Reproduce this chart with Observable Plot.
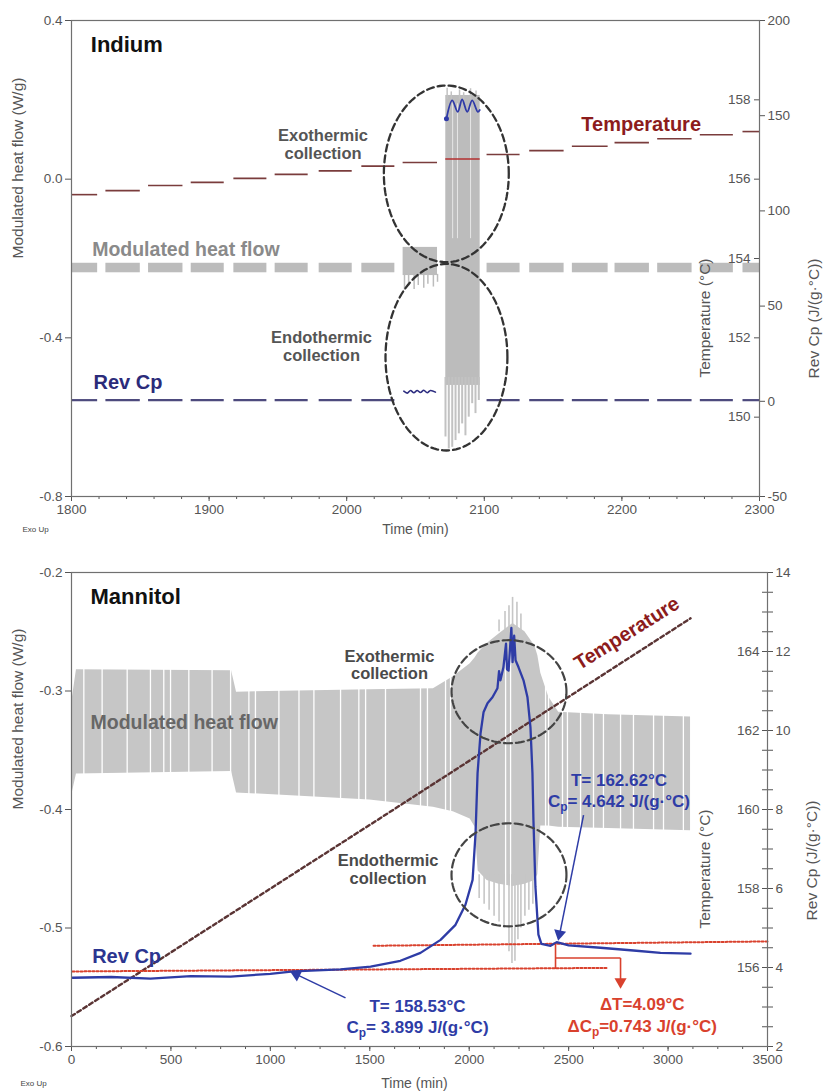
<!DOCTYPE html>
<html>
<head>
<meta charset="utf-8">
<script src="https://cdn.jsdelivr.net/npm/d3@7"></script>
<script src="https://cdn.jsdelivr.net/npm/@observablehq/plot@0.6"></script>
<style>
  html, body { margin: 0; padding: 0; background: #fff; }
  #chart svg { display: block; }
</style>
</head>
<body>
<div id="chart"></div>
<script>
// ======================= INDIUM (top panel) =======================
const inXTicks = [1800, 1900, 2000, 2100, 2200, 2300];
const inYTicks = [-0.8, -0.4, 0.0, 0.4];
const inTempTicks = [150, 152, 154, 156, 158];
const inCpTicks = [-50, 0, 50, 100, 150, 200];

// quasi-isothermal segments (min)
const inSegStart = [1800, 1825, 1856, 1887, 1918, 1948, 1980, 2011, 2041, 2072, 2102, 2133, 2164, 2195, 2226, 2257, 2288];
const inSegEnd   = [1819, 1850, 1881, 1911, 1942, 1972, 2004, 2035, 2066, 2097, 2126, 2158, 2190, 2220, 2251, 2281, 2300];
const inTemp     = [155.61, 155.71, 155.84, 155.92, 156.02, 156.12, 156.21, 156.33, 156.42, 156.51, 156.62, 156.72, 156.83, 156.92, 157.02, 157.12, 157.20];
const inHfHigh   = [-0.212, -0.212, -0.212, -0.212, -0.212, -0.212, -0.212, -0.212, -0.172, 0.211, -0.212, -0.212, -0.212, -0.212, -0.212, -0.212, -0.212];
const inHfLow    = [-0.236, -0.236, -0.236, -0.236, -0.236, -0.236, -0.236, -0.236, -0.243, -0.520, -0.236, -0.236, -0.236, -0.236, -0.236, -0.236, -0.236];
const inRevCp    = [0.6, 0.6, 0.6, 0.6, 0.6, 0.6, 0.6, 0.6, null, null, 0.6, 0.6, 0.6, 0.6, 0.6, 0.6, 0.6];

// heat-flow spikes in segment 9 (pre-melt) and segment 10 (melt)
const inPreSpikeT   = [2042, 2045, 2049, 2052, 2056, 2059, 2063, 2066];
const inPreSpikeLow = [-0.280, -0.270, -0.278, -0.268, -0.275, -0.265, -0.272, -0.260];
const inMeltSpikeT   = [2071.8, 2074.2, 2076.7, 2079.1, 2081.5, 2083.9, 2086.3, 2088.7, 2091.2, 2093.6, 2096.0];
const inMeltSpikeLow = [-0.650, -0.680, -0.676, -0.659, -0.642, -0.617, -0.647, -0.600, -0.566, -0.591, -0.558];
const inMeltUpT  = [2073, 2076, 2082, 2085, 2090, 2094];
const inMeltUp   = [0.229, 0.220, 0.225, 0.218, 0.228, 0.222];
const inMeltGapT = [2077, 2080.5, 2090];

// Rev Cp oscillation during segments 9 and 10
const inWave9T   = [2041.5, 2044.0, 2046.4, 2048.8, 2051.2, 2053.6, 2056.0, 2058.5, 2060.9, 2064.5];
const inWave9Cp  = [5.3, 4.3, 5.7, 4.5, 5.7, 4.6, 5.8, 4.5, 5.7, 4.8];
const inWave10T  = [2072.5, 2076.7, 2080.7, 2083.9, 2087.6, 2091.2, 2095.3, 2096.7];
const inWave10Cp = [148.4, 158.0, 152.0, 158.5, 152.0, 158.0, 152.0, 153.0];

// dashed ellipses (centre / radii in data units)
const inEllT   = [2072.4, 2072.5];
const inEllHf  = [0.0135, -0.4488];
const inEllRt  = [45.4, 44.3];
const inEllRhf = [0.2226, 0.2352];

// ======================= MANNITOL (bottom panel) =======================
const maXTicks = [0, 500, 1000, 1500, 2000, 2500, 3000, 3500];
const maYTicks = [-0.6, -0.5, -0.4, -0.3, -0.2];
const maCpTicks = [2, 4, 6, 8, 10, 12, 14];
const maTempTicks = [156, 158, 160, 162, 164];

// modulated heat flow envelope
const maEnvT    = [5, 25, 805, 830, 1500, 1820, 1920, 2005, 2030, 2045, 2090, 2150, 2220, 2280, 2330, 2345, 2360, 2400, 2450, 2700, 3113];
const maEnvHigh = [-0.305, -0.282, -0.283, -0.301, -0.299, -0.298, -0.288, -0.277, -0.272, -0.268, -0.260, -0.252, -0.243, -0.250, -0.262, -0.270, -0.285, -0.305, -0.318, -0.320, -0.322];
const maEnvLow  = [-0.385, -0.370, -0.368, -0.386, -0.392, -0.398, -0.402, -0.408, -0.415, -0.452, -0.460, -0.463, -0.465, -0.463, -0.460, -0.455, -0.414, -0.414, -0.415, -0.416, -0.418];
const maSpikeT   = [2050, 2075, 2100, 2125, 2150, 2175, 2200, 2215, 2230, 2245, 2260, 2280, 2300, 2320];
const maSpikeLow = [-0.475, -0.480, -0.485, -0.490, -0.495, -0.500, -0.520, -0.530, -0.528, -0.510, -0.500, -0.490, -0.485, -0.480];
const maSpikeUpT = [2150, 2180, 2200, 2218, 2240, 2260];
const maSpikeUp  = [-0.240, -0.233, -0.228, -0.221, -0.225, -0.235];
const maGapT = [62, 154, 280, 397, 464, 498, 590, 707, 800, 892, 925, 1043, 1144, 1219, 1353, 1445, 1479, 1579, 1755, 1790, 1881, 1906, 2183, 2208, 2384, 2399, 2469, 2494, 2560, 2625, 2675, 2761, 2826, 2927, 2977, 3077];

// temperature (°C)
const maTempT = [0, 1537, 3113];
const maTemp  = [154.77, 159.73, 164.84];

// reversing Cp (J/(g·°C))
const maCpT = [5, 200, 397, 600, 800, 1000, 1116, 1353, 1504, 1654, 1755, 1856, 1931, 1981, 2017, 2032, 2042, 2057, 2072, 2092, 2117, 2142, 2150, 2157, 2172, 2185, 2190, 2198, 2212, 2218, 2226, 2233, 2248, 2273, 2293, 2308, 2318, 2323, 2333, 2348, 2363, 2409, 2440, 2500, 2660, 2826, 2962, 3113];
const maCp  = [3.74, 3.76, 3.72, 3.78, 3.77, 3.84, 3.90, 3.95, 4.02, 4.17, 4.37, 4.70, 5.08, 5.59, 6.22, 7.41, 8.92, 9.93, 10.46, 10.69, 10.84, 11.07, 11.50, 11.27, 11.60, 12.20, 11.55, 11.52, 12.60, 11.73, 12.40, 11.78, 11.60, 11.27, 10.84, 10.08, 8.92, 7.73, 6.04, 4.83, 4.60, 4.55, 4.64, 4.56, 4.50, 4.43, 4.37, 4.35];

// extrapolated baselines (red dotted)
const maBaseId = [0, 0, 1, 1];
const maBaseT  = [1519, 3500, 5, 2695];
const maBaseCp = [4.55, 4.66, 3.90, 3.99];

// dashed circles
const maCircT   = [2200, 2200];
const maCircHf  = [-0.3006, -0.4551];
const maCircRt  = [289, 289];
const maCircRhf = [0.0435, 0.0435];

// ---------------------------------------------------------------
const FONT = "'Liberation Sans', Arial, Helvetica, sans-serif";
const ang = d3.range(0, 361, 3).map(a => a * Math.PI / 180);
const ellipse = (T, H, RT, RH) => T.flatMap((t, i) => ang.map(a => ({id: i, t: t + RT[i] * Math.cos(a), hf: H[i] + RH[i] * Math.sin(a)})));

// ---------------- top panel ----------------
const inT2hf = T => -0.8 + (T - 148) / 10;
const inCp2hf = c => -0.8 + (c + 50) * 0.0048;
const inHf2T = v => 148 + (v + 0.8) * 10;
const inHf2Cp = v => (v + 0.8) / 0.0048 - 50;

const inSegs = inSegStart.map((s, i) => ({i, s, e: inSegEnd[i], T: inTemp[i], hi: inHfHigh[i], lo: inHfLow[i], cp: inRevCp[i]}));
const inPre = inPreSpikeT.map((t, i) => ({t, lo: inPreSpikeLow[i]}));
const inMelt = inMeltSpikeT.map((t, i) => ({t, lo: inMeltSpikeLow[i]}));
const inMeltU = inMeltUpT.map((t, i) => ({t, hi: inMeltUp[i]}));
const inW9 = inWave9T.map((t, i) => ({t, cp: inWave9Cp[i]}));
const inW10 = inWave10T.map((t, i) => ({t, cp: inWave10Cp[i]}));
const inEll = ellipse(inEllT, inEllHf, inEllRt, inEllRhf);

const topW = 823 - 71 - 64;
const topPlot = Plot.plot({
  width: 823, height: 545,
  marginTop: 20, marginBottom: 49, marginLeft: 71, marginRight: 64,
  x: {domain: [1800, 2300], label: null},
  y: {domain: [-0.8, 0.4], label: null},
  style: {fontFamily: FONT, fontSize: "13.5px", color: "#555", background: "#fff"},
  marks: [
    Plot.rect(inSegs, {x1: "s", x2: "e", y1: "lo", y2: "hi", fill: "#bcbcbc"}),
    Plot.ruleX(inPre, {x: "t", y1: -0.24, y2: "lo", stroke: "#bcbcbc", strokeWidth: 1.5}),
    Plot.ruleX(inMelt, {x: "t", y1: -0.50, y2: "lo", stroke: "#c2c2c2", strokeWidth: 2}),
    Plot.ruleX(inMeltU, {x: "t", y1: 0.2, y2: "hi", stroke: "#c2c2c2", strokeWidth: 1.5}),
    Plot.ruleX(inMeltGapT, {x: d => d, y1: 0.19, y2: -0.15, stroke: "#e6e6e6", strokeWidth: 1}),
    Plot.ruleY(inSegs.filter(d => d.i !== 9), {y: d => inT2hf(d.T), x1: "s", x2: "e", stroke: "#7a3c3c", strokeWidth: 1.6}),
    Plot.ruleY(inSegs.filter(d => d.i === 9), {y: d => inT2hf(d.T), x1: "s", x2: "e", stroke: "#b33030", strokeWidth: 1.6}),
    Plot.ruleY(inSegs.filter(d => d.cp != null), {y: d => inCp2hf(d.cp), x1: "s", x2: "e", stroke: "#4d4a7d", strokeWidth: 2.2}),
    Plot.line(inW9, {x: "t", y: d => inCp2hf(d.cp), stroke: "#2d2d80", strokeWidth: 1.6, curve: "catmull-rom"}),
    Plot.line(inW10, {x: "t", y: d => inCp2hf(d.cp), stroke: "#2f3aa8", strokeWidth: 1.8, curve: "catmull-rom"}),
    Plot.dot(inW10.slice(0, 1), {x: "t", y: d => inCp2hf(d.cp), r: 2.5, fill: "#2f3aa8"}),
    Plot.line(inEll, {x: "t", y: "hf", z: "id", stroke: "#333", strokeWidth: 2.3, strokeDasharray: "7,4"}),
    // annotations
    Plot.text([{t: 1814, hf: 0.338, s: "Indium"}], {x: "t", y: "hf", text: "s", textAnchor: "start", fontSize: 22, fontWeight: "bold", fill: "#111"}),
    Plot.text([{t: 1982.8, hf: 0.0892, s: "Exothermic\ncollection"}], {x: "t", y: "hf", text: "s", fontSize: 16.5, lineHeight: 1.1, fontWeight: "bold", fill: "#555"}),
    Plot.text([{t: 1815, hf: -0.1786, s: "Modulated heat flow"}], {x: "t", y: "hf", text: "s", textAnchor: "start", fontSize: 19.5, fontWeight: "bold", fill: "#8a8a8a"}),
    Plot.text([{t: 2214, hf: 0.1366, s: "Temperature"}], {x: "t", y: "hf", text: "s", fontSize: 20, fontWeight: "bold", fill: "#8c1c1c"}),
    Plot.text([{t: 1981.7, hf: -0.4213, s: "Endothermic\ncollection"}], {x: "t", y: "hf", text: "s", fontSize: 16.5, lineHeight: 1.1, fontWeight: "bold", fill: "#555"}),
    Plot.text([{t: 1816, hf: -0.5118, s: "Rev Cp"}], {x: "t", y: "hf", text: "s", textAnchor: "start", fontSize: 20, fontWeight: "bold", fill: "#2b2b7a"}),
    // axes
    Plot.axisX(d3.range(1800, 2301, 20), {tickSize: 3, fill: "none", label: null}),
    Plot.axisX(inXTicks, {tickSize: 5, tickPadding: 3, fontSize: 13.5, tickFormat: d => String(d), label: null}),
    Plot.axisY(inYTicks, {anchor: "left", tickSize: 6, tickPadding: 3, fontSize: 13.5, tickFormat: d => d.toFixed(1), label: null}),
    Plot.axisY(inCpTicks.map(inCp2hf), {anchor: "right", tickSize: 5, tickPadding: 3, fontSize: 13.5, tickFormat: v => String(Math.round(inHf2Cp(v))), label: null}),
    Plot.axisY(inTempTicks.map(inT2hf), {anchor: "left", dx: topW, tickSize: 5, tickPadding: 4, fontSize: 13.5, tickFormat: v => String(Math.round(inHf2T(v))), label: null}),
    Plot.frame({stroke: "#707070", strokeWidth: 1.2}),
    Plot.text(["Modulated heat flow (W/g)"], {text: d => d, frameAnchor: "left", dx: -53, rotate: -90, fontSize: 15.5, fill: "#555"}),
    Plot.text(["Temperature (°C)"], {text: d => d, frameAnchor: "right", dx: -54, rotate: -90, fontSize: 15.5, fill: "#555"}),
    Plot.text(["Rev Cp (J/(g·°C))"], {text: d => d, frameAnchor: "right", dx: 55, rotate: -90, fontSize: 15.5, fill: "#555"}),
    Plot.text(["Time (min)"], {text: d => d, frameAnchor: "bottom", dy: 37, fontSize: 14, fill: "#555"}),
    Plot.text(["Exo Up"], {text: d => d, frameAnchor: "bottom-left", dx: -49, dy: 35, textAnchor: "start", fontSize: 8, fill: "#444"})
  ]
});

// ---------------- bottom panel ----------------
const maCp2hf = c => -0.2 - (14 - c) / 30;
const maT2hf = T => -0.2 - (166 - T) / 30;
const maHf2Cp = v => 14 + (v + 0.2) * 30;
const maHf2T = v => 166 + (v + 0.2) * 30;

const maEnv = maEnvT.map((t, i) => ({t, hi: maEnvHigh[i], lo: maEnvLow[i]}));
const maSp = maSpikeT.map((t, i) => ({t, lo: maSpikeLow[i]}));
const maSpU = maSpikeUpT.map((t, i) => ({t, hi: maSpikeUp[i]}));
const maTempD = maTempT.map((t, i) => ({t, T: maTemp[i]}));
const maCpD = maCpT.map((t, i) => ({t, cp: maCp[i]}));
const maBase = maBaseT.map((t, i) => ({id: maBaseId[i], t, cp: maBaseCp[i]}));
const maCirc = ellipse(maCircT, maCircHf, maCircRt, maCircRhf);

const RED = "#d9412d", BLUE = "#2e3ca6";
const botW = 823 - 71 - 56;
const bottomPlot = Plot.plot({
  width: 823, height: 547,
  marginTop: 27, marginBottom: 46, marginLeft: 71, marginRight: 56,
  x: {domain: [0, 3500], label: null},
  y: {domain: [-0.6, -0.2], label: null},
  style: {fontFamily: FONT, fontSize: "13.5px", color: "#555", background: "#fff"},
  marks: [
    Plot.areaY(maEnv, {x: "t", y1: "lo", y2: "hi", fill: "#c6c6c6"}),
    Plot.ruleX(maGapT, {x: d => d, y1: -0.47, y2: -0.26, stroke: "#fff", strokeWidth: 1.3}),
    Plot.ruleX(maSp, {x: "t", y1: -0.455, y2: "lo", stroke: "#c6c6c6", strokeWidth: 1.6}),
    Plot.ruleX(maSpU, {x: "t", y1: -0.25, y2: "hi", stroke: "#c6c6c6", strokeWidth: 1.6}),
    Plot.line(maTempD, {x: "t", y: d => maT2hf(d.T), stroke: "#5a3434", strokeWidth: 2.4, strokeDasharray: "4,3"}),
    Plot.line(maBase, {x: "t", y: d => maCp2hf(d.cp), z: "id", stroke: RED, strokeWidth: 2, strokeDasharray: "2,2"}),
    Plot.line(maCpD, {x: "t", y: d => maCp2hf(d.cp), stroke: BLUE, strokeWidth: 2.3}),
    Plot.line(maCirc, {x: "t", y: "hf", z: "id", stroke: "#444", strokeWidth: 2.2, strokeDasharray: "8,4"}),
    // red ΔCp bracket
    Plot.link([{x1: 2434, c1: 4.60, x2: 2434, c2: 3.96}, {x1: 2434, c1: 4.24, x2: 2761, c2: 4.24}, {x1: 2761, c1: 4.24, x2: 2761, c2: 3.62}],
      {x1: "x1", y1: d => maCp2hf(d.c1), x2: "x2", y2: d => maCp2hf(d.c2), stroke: RED, strokeWidth: 1.6}),
    Plot.dot([{t: 2761, cp: 3.64}], {x: "t", y: d => maCp2hf(d.cp), symbol: "triangle", r: 4.5, fill: RED, rotate: 180}),
    // blue pointer arrows
    Plot.link([{x1: 1378, c1: 3.23, x2: 1125, c2: 3.84}, {x1: 2575, c1: 7.86, x2: 2453, c2: 4.80}],
      {x1: "x1", y1: d => maCp2hf(d.c1), x2: "x2", y2: d => maCp2hf(d.c2), stroke: BLUE, strokeWidth: 1.5}),
    Plot.dot([{t: 1131, cp: 3.82, r: -64}, {t: 2454, cp: 4.85, r: 191}], {x: "t", y: d => maCp2hf(d.cp), symbol: "triangle", r: 4.5, fill: BLUE, rotate: "r"}),
    // texts
    Plot.text([{t: 95.5, hf: -0.2208, s: "Mannitol"}], {x: "t", y: "hf", text: "s", textAnchor: "start", fontSize: 22, fontWeight: "bold", fill: "#111"}),
    Plot.text([{t: 95.5, hf: -0.3267, s: "Modulated heat flow"}], {x: "t", y: "hf", text: "s", textAnchor: "start", fontSize: 19.5, fontWeight: "bold", fill: "#676767"}),
    Plot.text([{t: 1599, hf: -0.2779, s: "Exothermic\ncollection"}], {x: "t", y: "hf", text: "s", fontSize: 16.5, lineHeight: 1.05, fontWeight: "bold", fill: "#4a4a4a"}),
    Plot.text([{t: 1592, hf: -0.4505, s: "Endothermic\ncollection"}], {x: "t", y: "hf", text: "s", fontSize: 16.5, lineHeight: 1.05, fontWeight: "bold", fill: "#4a4a4a"}),
    Plot.text([{t: 2793, hf: -0.2514, s: "Temperature"}], {x: "t", y: "hf", text: "s", rotate: -32, fontSize: 20, fontWeight: "bold", fill: "#8c1c1c"}),
    Plot.text([{t: 104, hf: -0.5239, s: "Rev Cp"}], {x: "t", y: "hf", text: "s", textAnchor: "start", fontSize: 20, fontWeight: "bold", fill: "#2b3590"}),
    Plot.text([{t: 2753, hf: -0.3836, s: "T= 162.62°C\nC_p= 4.642 J/(g·°C)"}], {x: "t", y: "hf", text: "s", fontSize: 17, lineHeight: 1.2, fontWeight: "bold", fill: BLUE}),
    Plot.text([{t: 1740, hf: -0.5744, s: "T= 158.53°C\nC_p= 3.899 J/(g·°C)"}], {x: "t", y: "hf", text: "s", fontSize: 17, lineHeight: 1.2, fontWeight: "bold", fill: BLUE}),
    Plot.text([{t: 2870, hf: -0.5722, s: "ΔT=4.09°C\nΔC_p=0.743 J/(g·°C)"}], {x: "t", y: "hf", text: "s", fontSize: 17, lineHeight: 1.3, fontWeight: "bold", fill: RED}),
    // axes
    Plot.axisX(d3.range(0, 3501, 125), {tickSize: 3, fill: "none", label: null}),
    Plot.axisX(maXTicks, {tickSize: 5, tickPadding: 3, fontSize: 13.5, tickFormat: d => String(d), label: null}),
    Plot.axisY(maYTicks, {anchor: "left", tickSize: 6, tickPadding: 3, fontSize: 13.5, tickFormat: d => d.toFixed(1), label: null}),
    Plot.axisY(d3.range(2, 14.01, 0.5).map(maCp2hf), {anchor: "right", tickSize: 5, fill: "none", label: null}),
    Plot.axisY(d3.range(2, 14.01, 0.5).map(maCp2hf), {anchor: "left", dx: botW, tickSize: 5, fill: "none", label: null}),
    Plot.axisY(maCpTicks.map(maCp2hf), {anchor: "right", tickSize: 5, tickPadding: 3, fontSize: 13.5, tickFormat: v => String(Math.round(maHf2Cp(v))), label: null}),
    Plot.axisY(maTempTicks.map(maT2hf), {anchor: "left", dx: botW, tickSize: 5, tickPadding: 3, fontSize: 13.5, tickFormat: v => String(Math.round(maHf2T(v))), label: null}),
    Plot.frame({stroke: "#707070", strokeWidth: 1.2}),
    Plot.text(["Modulated heat flow (W/g)"], {text: d => d, frameAnchor: "left", dx: -53, rotate: -90, fontSize: 15.5, fill: "#555"}),
    Plot.text(["Temperature (°C)"], {text: d => d, frameAnchor: "right", dx: -62, rotate: -90, fontSize: 15.5, fill: "#555"}),
    Plot.text(["Rev Cp (J/(g·°C))"], {text: d => d, frameAnchor: "right", dx: 45, dy: -9, rotate: -90, fontSize: 15.5, fill: "#555"}),
    Plot.text(["Time (min)"], {text: d => d, frameAnchor: "bottom", dx: -5, dy: 41, fontSize: 14, fill: "#555"}),
    Plot.text(["Exo Up"], {text: d => d, frameAnchor: "bottom-left", dx: -51, dy: 39, textAnchor: "start", fontSize: 8, fill: "#444"})
  ]
});

// subscript "p" in Cp annotations
function subscriptP(svg) {
  const ns = "http://www.w3.org/2000/svg";
  svg.querySelectorAll("text, tspan").forEach(el => {
    [...el.childNodes].forEach(node => {
      if (node.nodeType === 3 && node.nodeValue.includes("C_p")) {
        const idx = node.nodeValue.indexOf("C_p");
        const before = node.nodeValue.slice(0, idx) + "C";
        const after = node.nodeValue.slice(idx + 3);
        const frag = document.createDocumentFragment();
        frag.appendChild(document.createTextNode(before));
        const sub = document.createElementNS(ns, "tspan");
        sub.setAttribute("dy", "4");
        sub.setAttribute("font-size", "70%");
        sub.textContent = "p";
        const rest = document.createElementNS(ns, "tspan");
        rest.setAttribute("dy", "-4");
        rest.textContent = after;
        frag.appendChild(sub);
        frag.appendChild(rest);
        el.replaceChild(frag, node);
      }
    });
  });
}
subscriptP(bottomPlot);

const chart = document.getElementById("chart");
chart.appendChild(topPlot);
chart.appendChild(bottomPlot);
</script>
</body>
</html>
